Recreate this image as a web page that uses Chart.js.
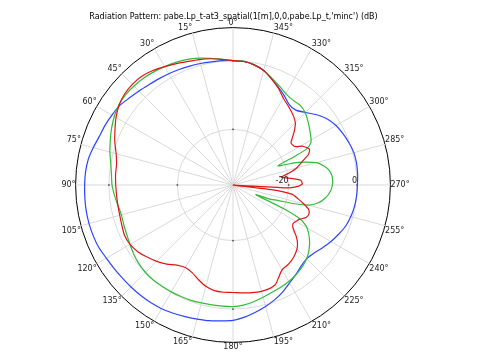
<!DOCTYPE html>
<html><head><meta charset="utf-8">
<script src="https://cdn.jsdelivr.net/npm/chart.js@4"></script>
<style>html,body{margin:0;padding:0;background:#fff;}</style>
</head><body>
<canvas id="c" width="486" height="357"></canvas>
<script>
const titleText = "Radiation Pattern: pabe.Lp_t-at3_spatial(1[m],0,0,pabe.Lp_t,'minc') (dB)";
const angleTickLabels = ['0°','15°','30°','45°','60°','75°','90°','105°','120°','135°','150°','165°',
  '180°','195°','210°','225°','240°','255°','270°','285°','300°','315°','330°','345°'];
const radialTickValues = [-20, 0];
const radialTickLabels = ['-20', '0'];
const rMin = -36.26, rMax = 9.74;

const blueDeg = [0,5,10,15,20,25,30,35,40,45,50,55,60,65,70,75,80,85,90,95,100,105,110,115,120,125,130,135,140,145,150,155,160,165,170,175,180,185,190,195,200,205,210,215,220,225,230,235,240,245,250,255,260,265,270,275,280,285,290,295,300,305,310,315,320,325,330,335,340,345,350,355];
const blueDb  = [0.1,0.2,0.3,0.5,0.7,1.0,1.3,1.6,2.0,2.6,3.3,4.2,4.6,5.0,5.3,6.0,6.7,7.0,7.1,7.2,7.3,7.3,7.2,7.0,6.5,6.2,6.0,5.9,5.8,5.7,5.5,5.1,4.7,4.3,4.0,3.6,3.3,2.5,1.5,0.5,-0.6,-1.8,-3.2,-4.3,-5.3,-5.8,-5.3,-4.3,-3.2,-2.2,-1.2,-0.6,-0.2,0.0,0.1,0.3,0.4,0.3,-0.2,-0.8,-1.5,-2.6,-4.3,-6.3,-7.7,-7.6,-6.2,-4.8,-3.2,-1.6,-0.6,0.0];

const greenDeg = [0,5,10,15,20,25,30,35,40,45,50,55,60,65,70,75,80,85,90,95,100,105,110,115,120,125,130,135,140,145,150,155,160,165,170,175,180,185,190,195,200,205,210,215,220,225,230,235,240,243,245,247,249,251,253,255,258,262,266,270,273,276,279,282,285,288,290,293,295,296,298,300,305,310,315,320,325,330,335,340,345,350,355];
const greenDb  = [0.1,0.6,1.3,2.1,2.8,3.3,3.7,4.1,4.45,4.65,4.75,4.5,3.8,2.9,1.9,1.0,0.0,-0.6,-0.9,-1.5,-2.1,-2.5,-2.3,-2.0,-1.5,-0.9,-0.4,-0.1,0.0,-0.1,-0.2,-0.3,-0.4,-0.6,-0.7,-0.7,-0.7,-1.0,-1.6,-2.3,-2.9,-3.3,-3.7,-4.2,-4.9,-5.8,-7.2,-9.0,-11.3,-14.0,-20.0,-29.0,-25.0,-22.5,-17.5,-13.5,-10.9,-9.0,-7.8,-7.2,-7.1,-7.3,-7.9,-9.2,-11.0,-14.6,-17.3,-22.0,-16.0,-12.5,-10.6,-9.9,-8.8,-7.6,-6.4,-5.8,-5.9,-5.4,-4.3,-3.0,-1.6,-0.6,0.0];

const redDeg = [0,5,10,15,20,25,30,35,40,45,50,55,60,65,70,75,80,85,90,95,100,105,110,115,120,125,130,135,140,145,150,155,160,165,170,175,180,185,190,195,200,203,206,210,215,220,225,228,231,234,237,240,243,246,249,252,255,258,261,263,265,267,269,271,274,277,279,282,285,289,292,295,299,302,306,309,312,315,319,325,330,335,340,345,350,355];
const redDb  = [0.1,0.6,1.2,1.7,2.2,2.9,3.7,4.6,5.2,5.35,5.1,4.4,3.2,1.8,0.5,-0.9,-1.7,-1.8,-2.0,-2.1,-2.1,-2.0,-1.7,-1.3,-1.5,-2.3,-3.5,-4.7,-6.1,-7.7,-8.4,-8.0,-6.8,-5.6,-4.9,-4.8,-4.85,-4.6,-4.3,-4.1,-4.2,-4.6,-6.0,-7.6,-8.0,-8.7,-9.8,-10.9,-12.5,-14.5,-15.4,-15.0,-14.3,-12.9,-12.5,-13.0,-14.8,-16.8,-18.7,-25.0,-36.2,-20.0,-17.0,-16.0,-16.4,-19.8,-22.0,-19.5,-17.0,-14.7,-12.5,-11.6,-12.9,-15.0,-15.3,-13.8,-12.0,-10.5,-9.4,-8.1,-6.9,-5.0,-3.3,-1.6,-0.6,0.0];

// radar index i runs clockwise from the top; pattern angle runs counter-clockwise
const N = 360;
const idxOf = (deg) => (N - deg) % N;
const labels = new Array(N).fill('');
angleTickLabels.forEach((t, k) => { labels[idxOf(k * 15)] = t; });
function series(degs, vals) {
  const arr = new Array(N).fill(null);
  degs.forEach((d, k) => { arr[idxOf(d)] = vals[k]; });
  return arr;
}

const extrasPlugin = {
  id: 'extras',
  beforeDatasetsDraw(chart) {
    const s = chart.scales.r, ctx = chart.ctx;
    ctx.save();
    ctx.fillStyle = '#444';
    [0, 90, 180, 270].forEach(i => {
      radialTickValues.forEach(v => {
        const p = s.getPointPositionForValue(i, v);
        ctx.fillRect(p.x - 0.75, p.y - 0.75, 1.5, 1.5);
      });
    });
    ctx.restore();
  },
  afterDatasetsDraw(chart) {
    const s = chart.scales.r, ctx = chart.ctx;
    ctx.save();
    ctx.font = '8px "DejaVu Sans"';
    ctx.fillStyle = '#222';
    ctx.textAlign = 'right';
    ctx.textBaseline = 'bottom';
    radialTickValues.forEach((v, k) => {
      const p = s.getPointPositionForValue(idxOf(270), v);
      ctx.fillText(radialTickLabels[k], p.x, p.y - 0.5);
    });
    ctx.restore();
  }
};

Chart.defaults.font.family = 'DejaVu Sans';
new Chart(document.getElementById('c'), {
  type: 'radar',
  data: {
    labels: labels,
    datasets: [
      { label: 'blue', data: series(blueDeg, blueDb), borderColor: '#2b44ff', order: 3 },
      { label: 'green', data: series(greenDeg, greenDb), borderColor: '#33bb3a', order: 2 },
      { label: 'red', data: series(redDeg, redDb), borderColor: '#e01515', order: 1 }
    ]
  },
  options: {
    responsive: false,
    devicePixelRatio: 1,
    animation: false,
    spanGaps: true,
    layout: { padding: { top: 0, left: 0, right: 19, bottom: 4 } },
    elements: {
      line: { borderWidth: 1.2, fill: false, tension: 0.2 },
      point: { radius: 0, hitRadius: 0, hoverRadius: 0 }
    },
    plugins: {
      legend: { display: false },
      tooltip: { enabled: false },
      title: {
        display: true, text: titleText, color: '#000',
        font: { size: 8, weight: 'normal', family: 'DejaVu Sans' },
        padding: { top: 11.7, bottom: -2.3 }
      }
    },
    scales: {
      r: {
        min: rMin, max: rMax,
        startAngle: 0,
        afterBuildTicks: (axis) => {
          axis.ticks = [{ value: rMin }, { value: radialTickValues[0] }, { value: radialTickValues[1] }, { value: rMax }];
        },
        ticks: { display: false },
        grid: {
          circular: true,
          lineWidth: 1,
          color: (ctx) => {
            const v = ctx.tick ? ctx.tick.value : null;
            if (v === rMax) return '#000';
            if (v === rMin) return 'rgba(0,0,0,0)';
            return '#d9d9d9';
          }
        },
        angleLines: {
          display: true,
          lineWidth: 1,
          color: (ctx) => (((N - ctx.index) % N) % 15 === 0 ? '#d9d9d9' : 'rgba(0,0,0,0)')
        },
        pointLabels: {
          display: true,
          padding: 0,
          color: '#222',
          font: { size: 8, family: 'DejaVu Sans' }
        }
      }
    }
  },
  plugins: [extrasPlugin]
});
</script>
</body></html>
